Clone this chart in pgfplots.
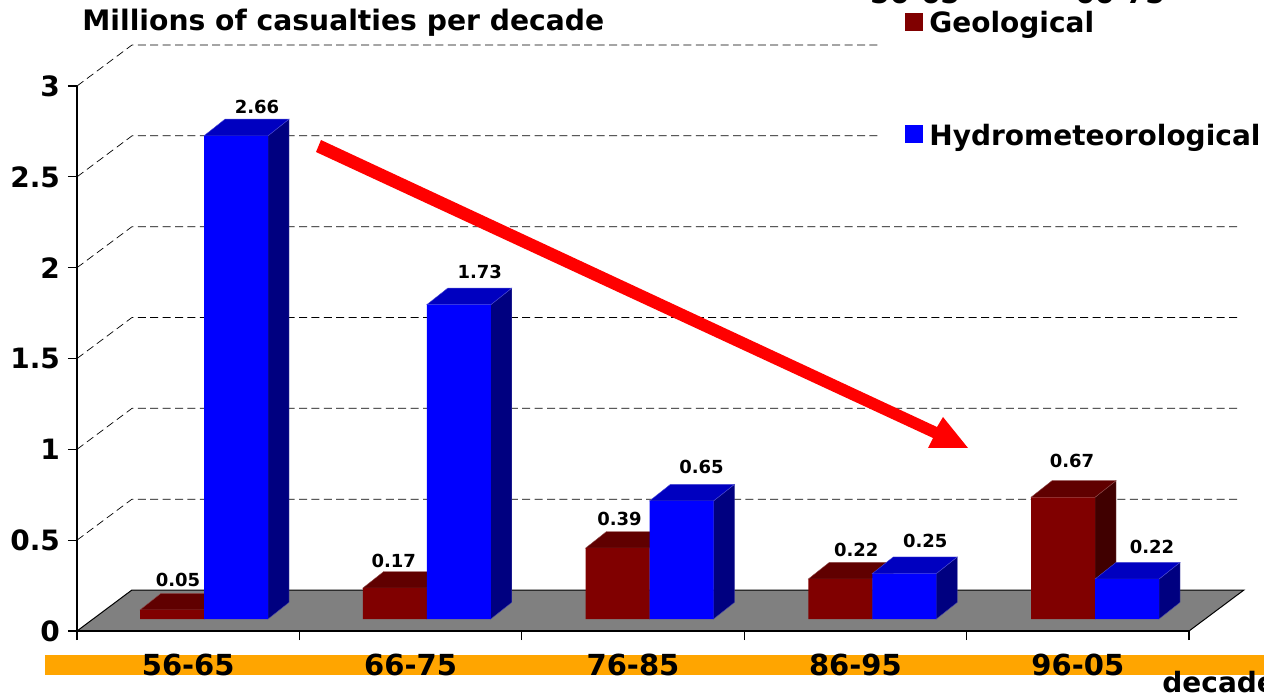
\documentclass[border=0pt]{standalone}
\usepackage{fontspec}
\setmainfont{DejaVu Sans}
\usepackage{pgfplots}
\pgfplotsset{compat=1.18}

\definecolor{geo}{HTML}{800000}
\definecolor{geotop}{HTML}{600000}
\definecolor{geoside}{HTML}{400000}
\definecolor{hyd}{HTML}{0000FF}
\definecolor{hydtop}{HTML}{0000C0}
\definecolor{hydside}{HTML}{000080}
\definecolor{band}{HTML}{FFA500}

\newcommand{\tickfont}{\bfseries\fontsize{14}{16}\selectfont}

% top and side of one bar: left edge, value, top colour, side colour
\newcommand{\faces}[4]{%
  \pgfmathsetmacro{\xa}{#1}%
  \pgfmathsetmacro{\xb}{#1+0.2873}%
  \pgfmathsetmacro{\xc}{#1+0.2873+0.0943}%
  \pgfmathsetmacro{\xd}{#1+0.0943}%
  \pgfmathsetmacro{\yb}{#2+0.0914}%
  \pgfmathsetmacro{\yo}{0.0914}%
  \edef\tmp{\noexpand\addplot[forget plot,fill=#4,draw=#4!70!white,line width=0.2pt]
    coordinates {(\xb,0)(\xc,\yo)(\xc,\yb)(\xb,#2)} -- cycle;
    \noexpand\addplot[forget plot,fill=#3,draw=#3!70!white,line width=0.2pt]
    coordinates {(\xa,#2)(\xb,#2)(\xc,\yb)(\xd,\yb)} -- cycle;}%
  \tmp}

\newcommand{\vlab}[4]{\node[font=\bfseries\fontsize{9}{10}\selectfont,xshift=#3pt,yshift=#4pt]
  at (axis cs:#1,#2) {#2};}

\begin{document}
\begin{tikzpicture}
\useasboundingbox (0,0) rectangle (632pt,348.5pt);
\fill[band] (22.5pt,11pt) rectangle (640pt,21pt);

% walls, floor and axes
\begin{axis}[
  at={(38.5pt,33pt)}, anchor=south west,
  scale only axis, width=556pt, height=272.5pt,
  xmin=-0.5, xmax=4.5, ymin=0, ymax=3,
  clip=false, axis on top,
  axis x line=bottom, axis y line=left,
  axis line style={-,line width=0.6pt},
  tick align=outside, major tick length=4.5pt,
  tick style={black,line width=0.6pt},
  xtick={-0.5,0.5,1.5,2.5,3.5,4.5},
  xticklabels={56-65,66-75,76-85,86-95,96-05},
  x tick label as interval,
  ytick={0,0.5,1,1.5,2,2.5,3},
  yticklabels={0,0.5,1,1.5,2,2.5,3},
  tick label style={font=\tickfont},
  x tick label style={yshift=-3.5pt,font=\bfseries\fontsize{14.5}{16}\selectfont},
  y tick label style={xshift=-0.5pt},
  /pgf/number format/assume math mode=true,
]
\pgfplotsinvokeforeach{0.5,1,1.5,2,2.5,3}{
  \draw[black,line width=0.35pt,dash pattern=on 4pt off 2.2pt]
    (axis cs:-0.5,#1) -- ++(27.5pt,20.5pt) -- ++(554pt,0pt);
}
\addplot[fill=gray,draw=black,line width=0.5pt,forget plot]
  coordinates {(-0.5,0)(4.5,0)(4.747,0.2257)(-0.253,0.2257)} -- cycle;
\end{axis}

% bars
\begin{axis}[
  at={(46.3125pt,39pt)}, anchor=south west,
  scale only axis, width=556.875pt, height=272.5pt,
  xmin=-0.5, xmax=4.5, ymin=0, ymax=3,
  clip=false, hide axis,
  legend style={at={(0.7051,1.119)},anchor=north west,draw=none,fill=white,
    font=\bfseries\fontsize{14}{15}\selectfont,
    inner sep=0pt,row sep=42pt,nodes={inner sep=1pt}},
  legend cell align=left,
  legend image code/.code={\path[draw=none,fill=none] (0pt,0pt) -- (24.5pt,0pt);
    \path[#1,draw=none] (13.5pt,-3.5pt) rectangle (22.5pt,5.5pt);},
]
\faces{-0.2873}{0.05}{geotop}{geoside}
\faces{0.7127}{0.17}{geotop}{geoside}
\faces{1.7127}{0.39}{geotop}{geoside}
\faces{2.7127}{0.22}{geotop}{geoside}
\faces{3.7127}{0.67}{geotop}{geoside}
\addplot[ybar,bar width=32pt,bar shift=-16pt,fill=geo,draw=none]
  coordinates {(0,0.05)(1,0.17)(2,0.39)(3,0.22)(4,0.67)};
\addlegendentry{Geological}
\faces{0}{2.66}{hydtop}{hydside}
\faces{1}{1.73}{hydtop}{hydside}
\faces{2}{0.65}{hydtop}{hydside}
\faces{3}{0.25}{hydtop}{hydside}
\faces{4}{0.22}{hydtop}{hydside}
\addplot[ybar,bar width=32pt,bar shift=16pt,fill=hyd,draw=none]
  coordinates {(0,2.66)(1,1.73)(2,0.65)(3,0.25)(4,0.22)};
\addlegendentry{Hydrometeorological}
\vlab{-0.1436}{0.05}{3}{15}
\vlab{0.8564}{0.17}{-0.5}{13.5}
\vlab{1.8564}{0.39}{1}{14.5}
\vlab{2.8564}{0.22}{8}{14.5}
\vlab{3.8564}{0.67}{4.5}{18}
\vlab{0.1436}{2.66}{10.5}{14.5}
\vlab{1.1436}{1.73}{10.5}{16.5}
\vlab{2.1436}{0.65}{10}{17}
\vlab{3.1436}{0.25}{10.5}{16.5}
\vlab{4.1436}{0.22}{12.5}{16}
\end{axis}

% annotations in image pixels
\begin{scope}[x=0.5pt,y=-0.5pt,yshift=348.5pt]
\fill[red] (316,152) -- (321,140) -- (937,427) -- (943,417) -- (968,448) -- (928,448) -- (933,438) -- cycle;
\node[anchor=base west,inner sep=0pt,font=\bfseries\fontsize{14.1}{16}\selectfont] at (82,31) {Millions of casualties per decade};
\node[anchor=base west,inner sep=0pt,font=\tickfont] at (1162,692) {decade};
\node[anchor=base,inner sep=0pt,font=\tickfont] at (915,4) {56-65};
\node[anchor=base,inner sep=0pt,font=\tickfont] at (1120,4) {66-75};
\end{scope}
\end{tikzpicture}
\end{document}
